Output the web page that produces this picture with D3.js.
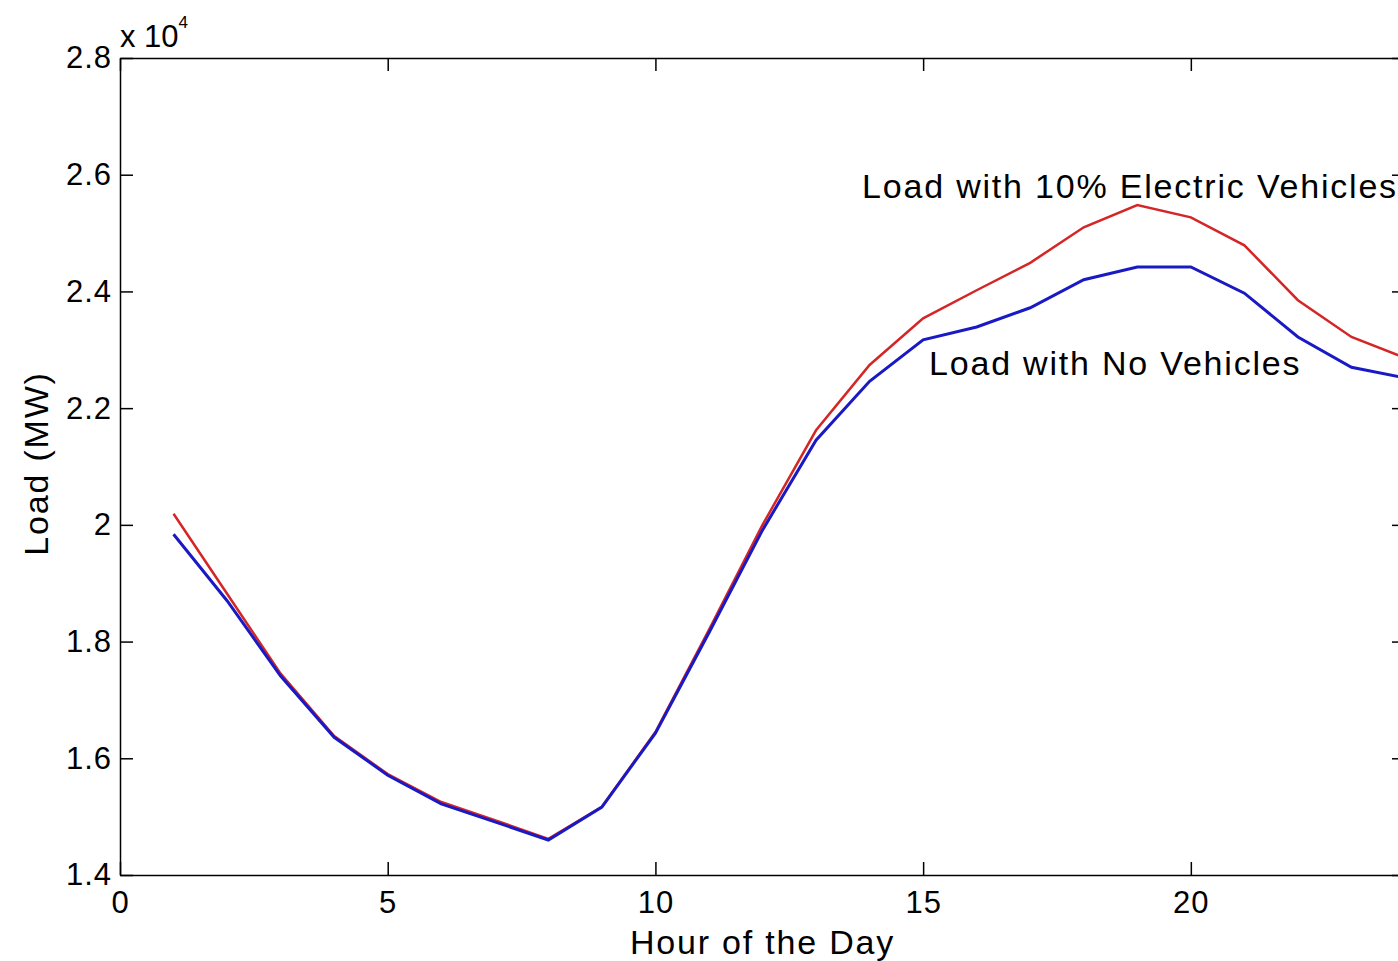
<!DOCTYPE html>
<html>
<head>
<meta charset="utf-8">
<script src="https://cdn.jsdelivr.net/npm/d3@7"></script>
<style>
  body { margin: 0; background: #fff; overflow: hidden; }
  svg { display: block; font-family: "Liberation Sans", Arial, sans-serif; }
  .axis path, .axis line { stroke: #000; stroke-width: 1.5; }
  .axis text { fill: #000; font-size: 31px; letter-spacing: 1px; }
  .lbl { fill: #000; font-size: 34px; letter-spacing: 1.8px; }
</style>
</head>
<body>
<script>
// hour of the day
var hours = [1, 2, 3, 4, 5, 6, 7, 8, 9, 10, 11, 12, 13, 14, 15, 16, 17, 18, 19, 20, 21, 22, 23, 24];

// load (MW)
var loadNoVehicles = [19840, 18700, 17410, 16360, 15710, 15220, 14910, 14600, 15165, 16430, 18150, 19910,
                      21450, 22460, 23170, 23390, 23720, 24200, 24420, 24420, 23970, 23220, 22700, 22520];
var loadWithEV = [20190, 18820, 17450, 16380, 15730, 15250, 14940, 14620, 15170, 16450, 18200, 20000,
                  21620, 22740, 23540, 24020, 24490, 25100, 25480, 25270, 24790, 23850, 23220, 22860];

var xTicks = [0, 5, 10, 15, 20];
var yTicks = [14000, 16000, 18000, 20000, 22000, 24000, 26000, 28000];

// annotation text, placed in data units (hour, load)
var notes = [
    { text: 'Load with 10% Electric Vehicles', hour: 13.86, load: 25810 },
    { text: 'Load with No Vehicles', hour: 15.11, load: 22770 }
];

var width = 1398, height = 961;
var margin = { top: 58, left: 120, bottom: 86 };
var plotRight = 1405;

var svg = d3.select('body').append('svg')
    .attr('width', width)
    .attr('height', height);

var x = d3.scaleLinear().domain([0, 24]).range([margin.left, plotRight]);
var y = d3.scaleLinear().domain([14000, 28000]).range([height - margin.bottom, margin.top]);

var tickLen = 13;

// bottom + top
svg.append('g')
    .attr('class', 'axis')
    .attr('transform', 'translate(0,' + y(14000) + ')')
    .call(d3.axisBottom(x).tickValues(xTicks).tickSizeInner(-tickLen).tickSizeOuter(0).tickPadding(14))
    .selectAll('text').attr('dy', '0.78em');

svg.append('g')
    .attr('class', 'axis')
    .attr('transform', 'translate(0,' + y(28000) + ')')
    .call(d3.axisTop(x).tickValues(xTicks).tickSizeInner(-tickLen).tickSizeOuter(0).tickFormat(''));

// left + right
svg.append('g')
    .attr('class', 'axis')
    .attr('transform', 'translate(' + x(0) + ',0)')
    .call(d3.axisLeft(y).tickValues(yTicks).tickSizeInner(-tickLen).tickSizeOuter(0).tickPadding(8)
        .tickFormat(function (d) { return d3.format('')(d / 10000); }));

svg.append('g')
    .attr('class', 'axis')
    .attr('transform', 'translate(' + x(24) + ',0)')
    .call(d3.axisRight(y).tickValues(yTicks).tickSizeInner(-tickLen).tickSizeOuter(0).tickFormat(''));

// exponent label
var expo = svg.append('text')
    .attr('x', x(0))
    .attr('y', y(28000) - 11)
    .attr('fill', '#000')
    .style('font-size', '31px');
expo.append('tspan').text('x 10');
expo.append('tspan').attr('dy', -19).style('font-size', '17px').text('4');

var line = d3.line()
    .x(function (d, i) { return x(hours[i]); })
    .y(function (d) { return y(d); });

svg.append('path')
    .datum(loadWithEV)
    .attr('d', line)
    .attr('fill', 'none')
    .attr('stroke', '#d42626')
    .attr('stroke-width', 2.5);

svg.append('path')
    .datum(loadNoVehicles)
    .attr('d', line)
    .attr('fill', 'none')
    .attr('stroke', '#1a1ac4')
    .attr('stroke-width', 3);

svg.selectAll('.note')
    .data(notes)
    .enter().append('text')
    .attr('class', 'lbl note')
    .attr('x', function (d) { return x(d.hour); })
    .attr('y', function (d) { return y(d.load); })
    .attr('dy', '0.35em')
    .text(function (d) { return d.text; });

// axis titles
svg.append('text')
    .attr('class', 'lbl')
    .attr('x', (x(0) + x(24)) / 2)
    .attr('y', 954)
    .attr('text-anchor', 'middle')
    .text('Hour of the Day');

svg.append('text')
    .attr('class', 'lbl')
    .attr('transform', 'translate(48,' + (y(21000) - 3) + ') rotate(-90)')
    .attr('text-anchor', 'middle')
    .text('Load (MW)');
</script>
</body>
</html>
